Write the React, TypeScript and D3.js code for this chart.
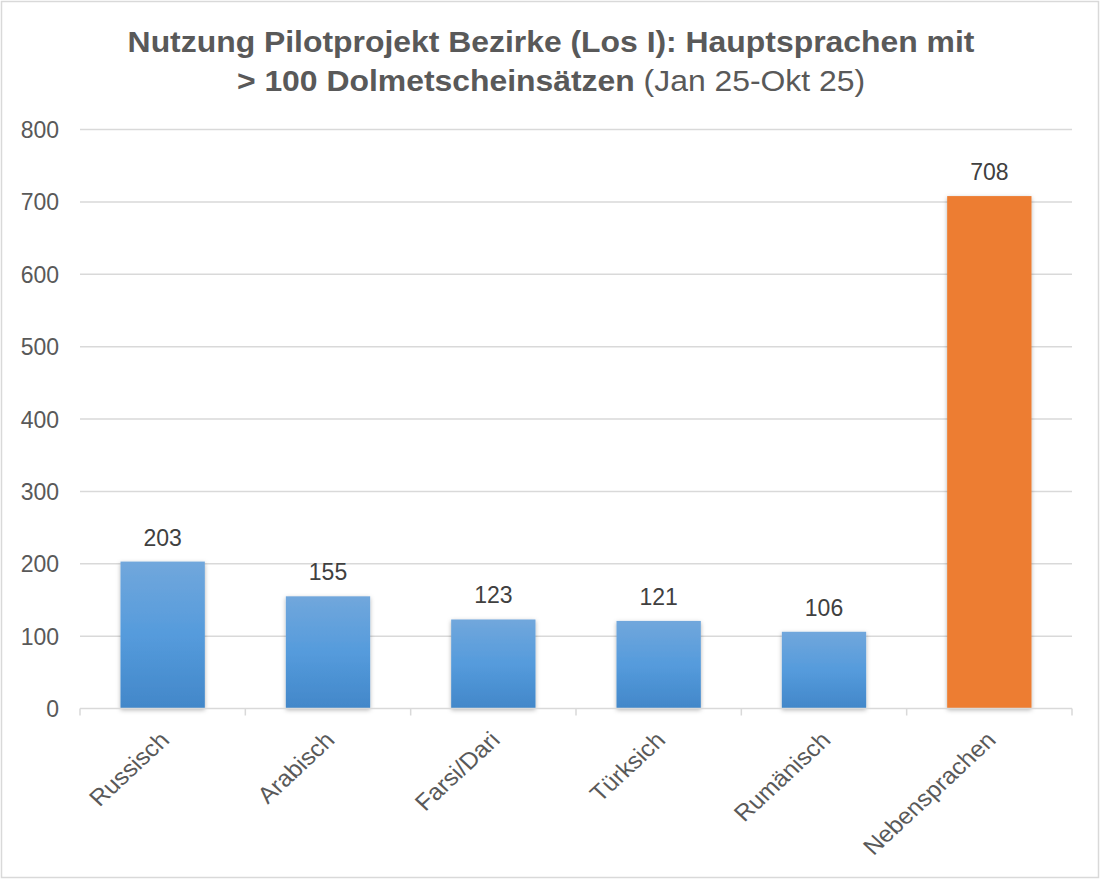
import React, { useEffect, useRef } from 'react';
import * as d3 from 'd3';

const categories = ['Russisch', 'Arabisch', 'Farsi/Dari', 'Türksich', 'Rumänisch', 'Nebensprachen'];
const values = [203, 155, 123, 121, 106, 708];
const yTicks = [0, 100, 200, 300, 400, 500, 600, 700, 800];

const W = 1101;
const H = 879;

const App = () => {
  const ref = useRef<SVGSVGElement>(null);

  useEffect(() => {
    const svg = d3.select(ref.current);
    svg.selectAll('*').remove();

    const left = 80, right = 1072, top = 129.5, bottom = 708.5;
    const font = 'Arial, "Liberation Sans", sans-serif';

    const defs = svg.append('defs');
    const grad = defs.append('linearGradient')
      .attr('id', 'blueGrad').attr('x1', 0).attr('y1', 0).attr('x2', 0).attr('y2', 1);
    grad.append('stop').attr('offset', '0%').attr('stop-color', '#71a7dc');
    grad.append('stop').attr('offset', '50%').attr('stop-color', '#559bdc');
    grad.append('stop').attr('offset', '100%').attr('stop-color', '#4287c9');

    const shadow = defs.append('filter').attr('id', 'shadow')
      .attr('x', '-20%').attr('y', '-10%').attr('width', '140%').attr('height', '130%');
    shadow.append('feDropShadow')
      .attr('dx', 0).attr('dy', 1.5).attr('stdDeviation', 2)
      .attr('flood-color', '#000').attr('flood-opacity', 0.3);

    svg.append('rect')
      .attr('x', 1.5).attr('y', 1.5).attr('width', W - 4).attr('height', H - 3)
      .attr('fill', '#fff').attr('stroke', '#d9d9d9').attr('stroke-width', 1.5);

    const x = d3.scaleBand().domain(categories).range([left, right]).paddingInner(0.49).paddingOuter(0.245);
    const y = d3.scaleLinear().domain([0, 800]).range([bottom, top]);

    // title (source rendering is a bit wider than Arial)
    const title = svg.append('text')
      .attr('transform', 'translate(551,0) scale(1.1,1)')
      .attr('text-anchor', 'middle').attr('font-family', font).attr('fill', '#595959');
    title.append('tspan').attr('x', 0).attr('y', 52.5)
      .attr('font-size', 29).attr('font-weight', 'bold')
      .text('Nutzung Pilotprojekt Bezirke (Los I): Hauptsprachen mit');
    const l2 = title.append('tspan').attr('x', 0).attr('y', 91).attr('font-size', 29);
    l2.append('tspan').attr('font-weight', 'bold').text('> 100 Dolmetscheinsätzen');
    l2.append('tspan').text(' (Jan 25-Okt 25)');

    // grid
    svg.append('g').selectAll('line')
      .data(yTicks.filter(d => d > 0))
      .enter().append('line')
      .attr('x1', left).attr('x2', right)
      .attr('y1', d => y(d)).attr('y2', d => y(d))
      .attr('stroke', '#d9d9d9').attr('stroke-width', 1.5);

    // y labels
    svg.append('g').selectAll('text')
      .data(yTicks)
      .enter().append('text')
      .attr('x', 59).attr('y', d => y(d) + 8.5)
      .attr('text-anchor', 'end')
      .attr('font-family', font).attr('font-size', 23).attr('fill', '#595959')
      .text(d => d);

    // bars
    svg.append('g').selectAll('rect')
      .data(values)
      .enter().append('rect')
      .attr('x', (d, i) => x(categories[i]) as number)
      .attr('y', d => y(d))
      .attr('width', x.bandwidth())
      .attr('height', d => bottom - y(d))
      .attr('fill', (d, i) => i === categories.length - 1 ? '#ed7d31' : 'url(#blueGrad)')
      .attr('filter', 'url(#shadow)');

    // x axis
    const ticks = d3.range(categories.length + 1).map(i => left + i * (right - left) / categories.length);
    svg.append('line')
      .attr('x1', left).attr('x2', right).attr('y1', bottom).attr('y2', bottom)
      .attr('stroke', '#d9d9d9').attr('stroke-width', 1.5);
    svg.append('g').selectAll('line')
      .data(ticks)
      .enter().append('line')
      .attr('x1', d => d).attr('x2', d => d)
      .attr('y1', bottom).attr('y2', bottom + 7)
      .attr('stroke', '#d9d9d9').attr('stroke-width', 1.5);

    // data labels
    svg.append('g').selectAll('text')
      .data(values)
      .enter().append('text')
      .attr('x', (d, i) => (x(categories[i]) as number) + x.bandwidth() / 2)
      .attr('y', d => y(d) - 16)
      .attr('text-anchor', 'middle')
      .attr('font-family', font).attr('font-size', 23).attr('fill', '#404040')
      .text(d => d);

    // category labels
    svg.append('g').selectAll('text')
      .data(categories)
      .enter().append('text')
      .attr('transform', d => {
        const cx = (x(d) as number) + x.bandwidth() / 2 + 8;
        return `translate(${cx},${bottom + 33}) scale(1.08,1) rotate(-45)`;
      })
      .attr('text-anchor', 'end')
      .attr('font-family', font).attr('font-size', 23).attr('fill', '#595959')
      .text(d => d);
  }, []);

  return (
    <svg ref={ref} width={W} height={H}
      style={{ display: 'block', position: 'absolute', left: 0, top: 0 }} />
  );
};

export default App;
